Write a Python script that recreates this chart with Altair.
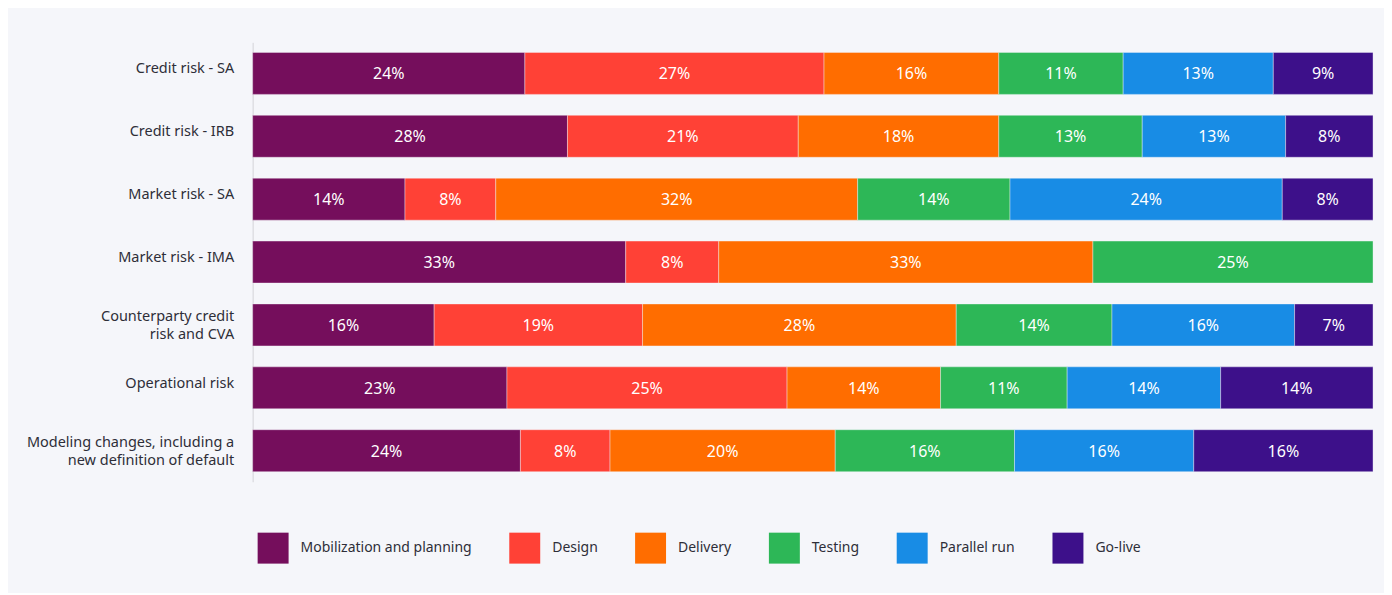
import altair as alt
import pandas as pd

categories = [
    "Credit risk - SA",
    "Credit risk - IRB",
    "Market risk - SA",
    "Market risk - IMA",
    "Counterparty credit|risk and CVA",
    "Operational risk",
    "Modeling changes, including a|new definition of default",
]
phases = ["Mobilization and planning", "Design", "Delivery", "Testing", "Parallel run", "Go-live"]
colors = ["#750e5c", "#ff4136", "#ff6d00", "#2db757", "#188ce5", "#3d108a"]

mobilization = [24.3, 28.1, 13.6, 33.3, 16.2, 22.7, 23.9]
design = [26.7, 20.6, 8.1, 8.3, 18.6, 25.0, 8.0]
delivery = [15.6, 17.9, 32.3, 33.4, 28.0, 13.7, 20.1]
testing = [11.1, 12.8, 13.6, 25.0, 13.9, 11.3, 16.0]
parallel_run = [13.4, 12.8, 24.3, 0, 16.3, 13.7, 16.0]
go_live = [8.9, 7.8, 8.1, 0, 7.0, 13.6, 16.0]
series = [mobilization, design, delivery, testing, parallel_run, go_live]

rows = []
for i, c in enumerate(categories):
    for j, p in enumerate(phases):
        v = series[j][i]
        if v > 0:
            rows.append({"category": c, "phase": p, "order": j, "value": v})
df = pd.DataFrame(rows)

FONT = "Noto Sans"

base = (
    alt.Chart(df)
    .transform_joinaggregate(total="sum(value)", groupby=["category"])
    .transform_window(
        cum="sum(value)",
        sort=[alt.SortField("order")],
        groupby=["category"],
        frame=[None, 0],
    )
    .transform_calculate(
        x0="(datum.cum - datum.value) / datum.total",
        x1="datum.cum / datum.total",
        xm="(datum.cum - datum.value / 2) / datum.total",
        lbl="format(datum.value, '.0f') + '%'",
    )
)

y_enc = alt.Y(
    "category:N",
    sort=categories,
    scale=alt.Scale(paddingInner=0.333, paddingOuter=0.16),
    axis=alt.Axis(
        title=None,
        labelExpr="split(datum.label, '|')",
        labelFont=FONT,
        labelFontSize=14.5,
        labelColor="#2e2e38",
        labelPadding=19,
        labelLineHeight=18,
        labelLimit=400,
        labelOffset=alt.condition("indexof(datum.value, '|') >= 0", alt.value(-8), alt.value(-4)),
        ticks=False,
        domainColor="#d4d4d8",
        domainWidth=1,
        grid=False,
    ),
)

bars = base.mark_bar(stroke="#f5f6fa", strokeWidth=0.4).encode(
    x=alt.X("x0:Q", scale=alt.Scale(domain=[0, 1], nice=False, zero=True), axis=None),
    x2="x1:Q",
    y=y_enc,
    color=alt.Color(
        "phase:N",
        scale=alt.Scale(domain=phases, range=colors),
        legend=alt.Legend(
            title=None,
            orient="none",
            legendX=5,
            legendY=491,
            direction="horizontal",
            columns=6,
            symbolType="square",
            symbolSize=961,
            symbolStrokeWidth=0,
            symbolOpacity=1,
            labelFont=FONT,
            labelFontSize=14,
            labelColor="#2e2e38",
            labelOffset=12,
            labelLimit=400,
            columnPadding=37,
        ),
    ),
    order=alt.Order("order:Q"),
)

texts = base.mark_text(color="white", font=FONT, fontSize=16, baseline="middle", align="center", dy=1).encode(
    x=alt.X("xm:Q", scale=alt.Scale(domain=[0, 1], nice=False, zero=True), axis=None),
    y=alt.Y("category:N", sort=categories),
    text="lbl:N",
)

chart = (
    alt.layer(bars, texts)
    .properties(
        width=1122,
        height=440,
        padding={"left": 245, "top": 34, "right": 11, "bottom": 111},
        autosize=alt.AutoSizeParams(type="none"),
        background="#f5f6fa",
    )
    .configure_view(stroke=None)
)

chart.save("out.html", embed_options={"renderer": "svg", "actions": False})
